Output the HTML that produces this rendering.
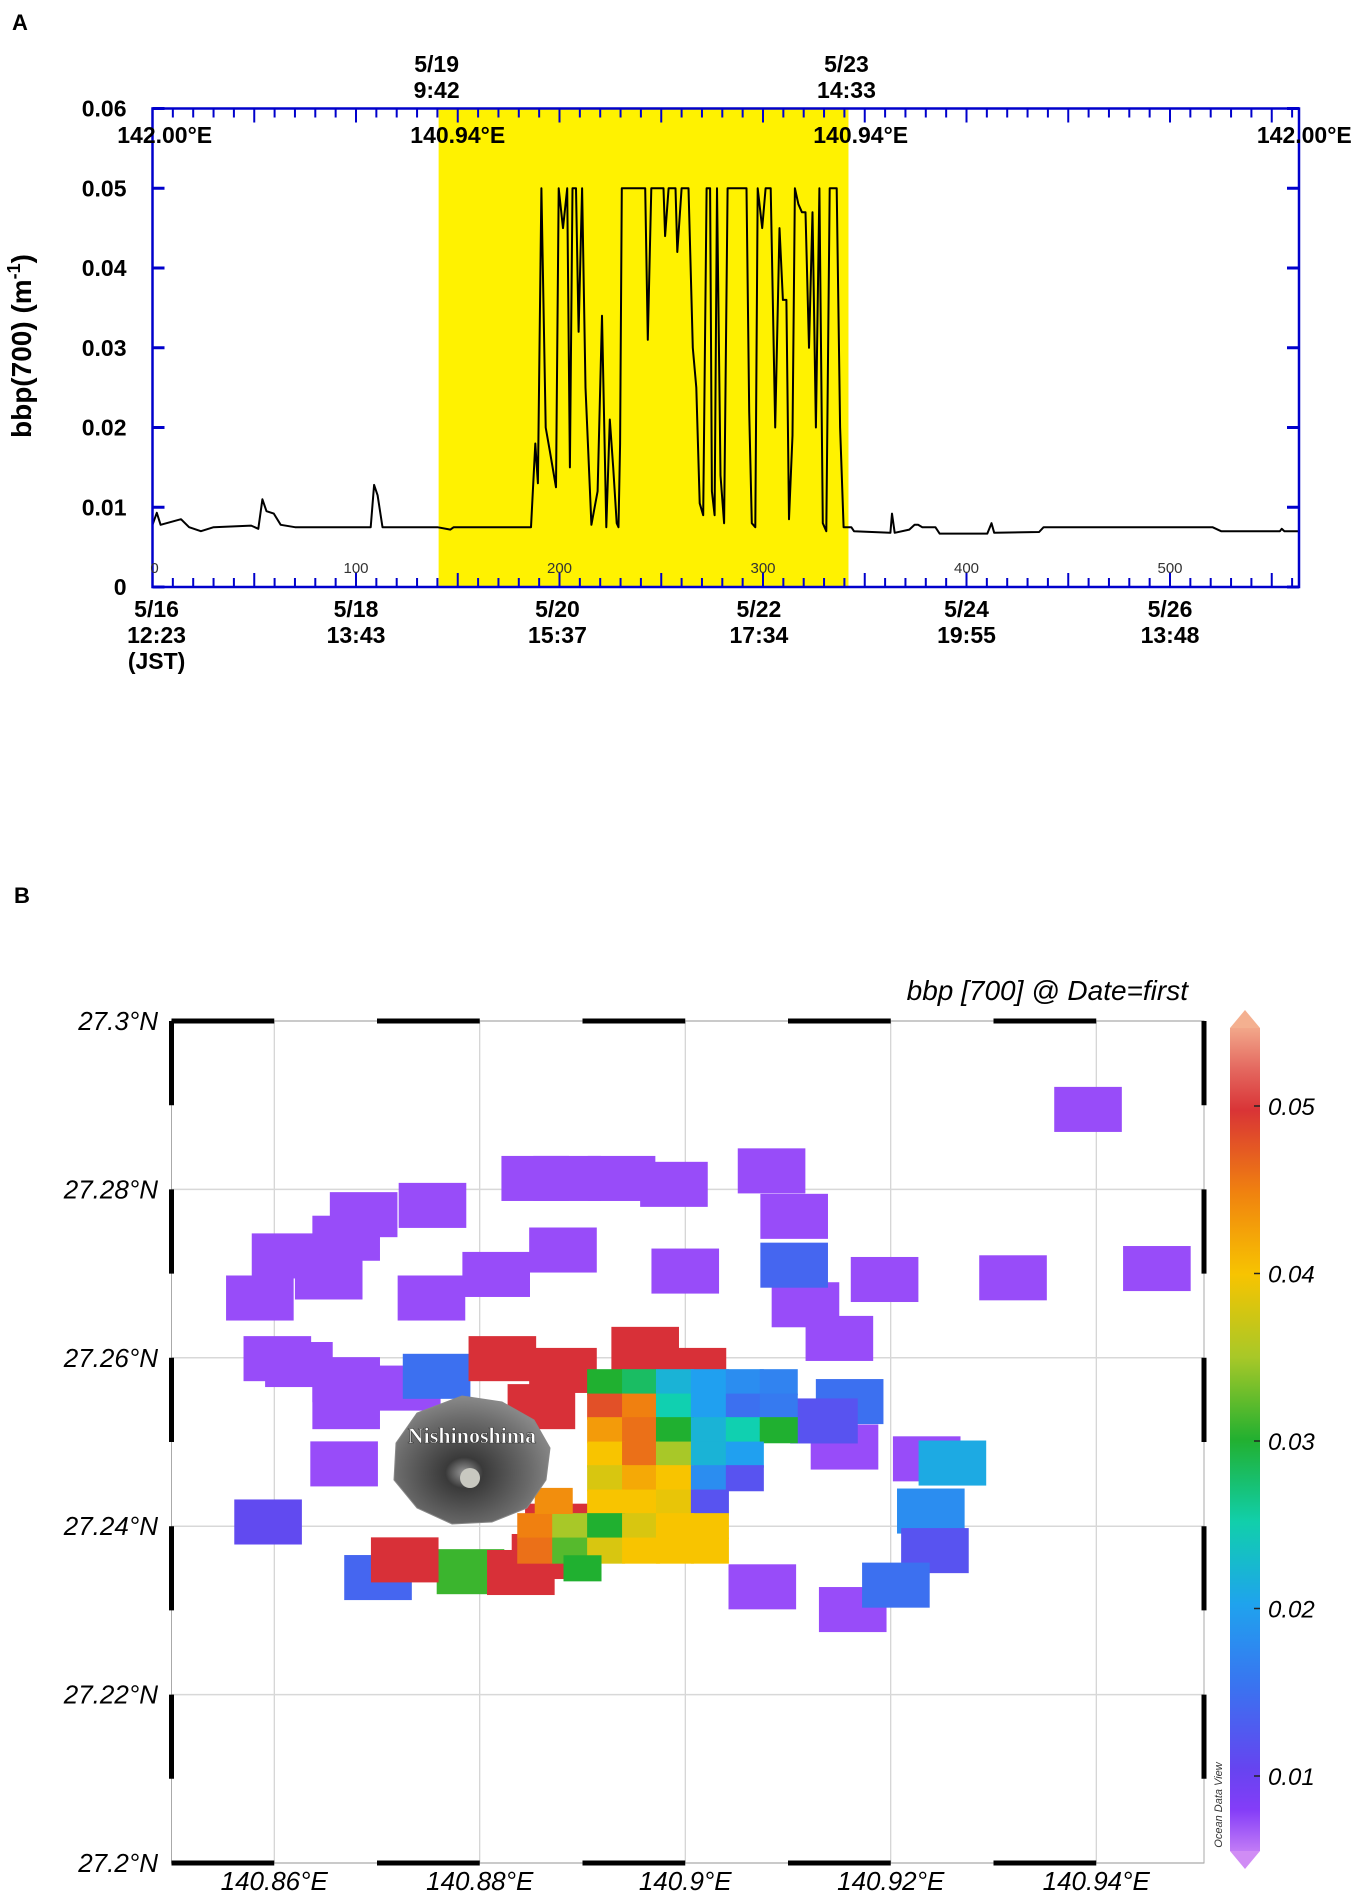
<!DOCTYPE html>
<html><head><meta charset="utf-8"><style>
html,body{margin:0;padding:0;background:#fff}
svg{display:block}
.nar{font-family:"Liberation Sans Narrow","Liberation Sans",sans-serif;font-weight:bold}
.it{font-family:"Liberation Sans",sans-serif;font-style:italic}
</style></head><body>
<svg id="fig" width="1358" height="1892" viewBox="0 0 1358 1892" xmlns="http://www.w3.org/2000/svg">
<text x="12" y="30" font-family="Liberation Sans,sans-serif" font-weight="bold" font-size="22">A</text>
<text x="14" y="903" font-family="Liberation Sans,sans-serif" font-weight="bold" font-size="22">B</text>
<g id="chartA"></g>
<g id="chartB"></g>
</svg>
<script>
// ---------- Chart A data ----------
const aIdx = [0,2.1,4,14,18,23.8,30,48.5,52,54,56,59.6,63,70,107.2,108.9,110.6,113,140,146.4,148,186,188.1,189.4,191.1,193.2,195.3,198.3,199.6,201.7,203.8,205.1,206.4,208.1,209.4,211.1,212.8,215.7,218.7,220.9,223,224.7,226.4,228.1,229,229.8,230.6,231.5,242.1,243.4,245.1,251.1,251.9,253.6,257,257.9,260,263.4,265.5,267.2,268.9,270.6,272.3,274,274.9,276.2,277.4,279.1,280.9,282.6,291.9,293.2,294.5,296.2,297.4,299.6,301.3,303.8,306,308.1,309.8,311.5,312.8,314.5,315.7,317.4,319.1,320.9,322.6,324.3,326,327.7,329.4,331.1,332.8,336.2,337.9,339.6,343.4,344.7,362.6,363.4,364.7,371.9,374.5,376.2,378.3,384.7,386.8,410.2,412.3,413.6,435.7,437.9,520.9,525.1,554,554.9,556.2,563];
const aVal = [0.0078,0.0093,0.0078,0.0085,0.0075,0.007,0.0075,0.0077,0.0073,0.011,0.0095,0.0092,0.0078,0.0075,0.0075,0.0128,0.0115,0.0075,0.0075,0.0072,0.0075,0.0075,0.018,0.013,0.05,0.02,0.017,0.0125,0.05,0.045,0.05,0.015,0.05,0.05,0.032,0.05,0.025,0.0078,0.012,0.034,0.0075,0.021,0.015,0.008,0.0075,0.018,0.05,0.05,0.05,0.031,0.05,0.05,0.044,0.05,0.05,0.042,0.05,0.05,0.03,0.025,0.0105,0.009,0.05,0.05,0.012,0.009,0.05,0.014,0.008,0.05,0.05,0.022,0.008,0.0075,0.05,0.045,0.05,0.05,0.02,0.045,0.036,0.036,0.0085,0.019,0.05,0.048,0.047,0.047,0.03,0.047,0.02,0.05,0.008,0.007,0.05,0.05,0.02,0.0075,0.0075,0.007,0.0068,0.0092,0.0068,0.0072,0.0078,0.0078,0.0075,0.0075,0.0067,0.0067,0.008,0.0068,0.0069,0.0075,0.0075,0.007,0.007,0.0073,0.007,0.007];
const aYTicks = [0,0.01,0.02,0.03,0.04,0.05,0.06];
const aYTickLabels = ["0","0.01","0.02","0.03","0.04","0.05","0.06"];
const aIdxTicks = [0,100,200,300,400,500];
const aDateIdx = [2,100,199,298,400,500];
const aDateLines = [["5/16","12:23","(JST)"],["5/18","13:43"],["5/20","15:37"],["5/22","17:34"],["5/24","19:55"],["5/26","13:48"]];
const aBand = [140.6,342];
const aBandLabels = [["5/19","9:42"],["5/23","14:33"]];
const aLonIdx = [6,150,348,566];
const aLonLabels = ["142.00°E","140.94°E","140.94°E","142.00°E"];

// ---------- Chart B data ----------
const cLon = [140.9392,140.9459,140.9319,140.9194,140.9150,140.9117,140.9106,140.9084,140.9000,140.8989,140.8938,140.8885,140.8854,140.8881,140.8816,140.8753,140.8754,140.8687,140.8670,140.8611,140.8586,140.8653,140.8603,140.8624,140.8670,140.8670,140.8729,140.8668,140.9155,140.9075,140.9163,140.9235,140.8594,140.9106,140.8758,140.9239,140.9243,140.9205,140.9260,140.8701,140.8791,140.8727,140.9160,140.9135,140.8822,140.8881,140.8961,140.9007,140.8860,140.8864,140.8877,140.8840];
const cLat = [27.2895,27.2706,27.2695,27.2693,27.2623,27.2663,27.2768,27.2822,27.2703,27.2806,27.2813,27.2813,27.2813,27.2728,27.2699,27.2671,27.2781,27.2770,27.2742,27.2721,27.2671,27.2696,27.2599,27.2592,27.2574,27.2542,27.2564,27.2474,27.2494,27.2328,27.2301,27.2480,27.2405,27.2710,27.2578,27.2418,27.2371,27.2330,27.2475,27.2339,27.2346,27.2360,27.2548,27.2525,27.2599,27.2585,27.2610,27.2585,27.2542,27.2364,27.2400,27.2345];
const cVal = [0.007,0.007,0.007,0.007,0.007,0.007,0.007,0.007,0.007,0.007,0.007,0.007,0.007,0.007,0.007,0.007,0.007,0.007,0.007,0.007,0.007,0.007,0.007,0.007,0.007,0.007,0.007,0.007,0.007,0.007,0.007,0.007,0.011,0.014,0.015,0.018,0.012,0.015,0.021,0.014,0.031,0.05,0.015,0.012,0.05,0.05,0.05,0.05,0.05,0.05,0.05,0.05];
const fLon = [140.8923,140.8957,140.8990,140.9024,140.9058,140.9091,140.8923,140.8957,140.8990,140.9024,140.9058,140.9091,140.8923,140.8957,140.8990,140.9024,140.9058,140.9091,140.8923,140.8957,140.8990,140.9024,140.9058,140.8923,140.8957,140.8990,140.9024,140.9058,140.8923,140.8957,140.8990,140.9024,140.8855,140.8889,140.8923,140.8957,140.8990,140.9024,140.8855,140.8889,140.8923,140.8957,140.8990,140.9024,140.8900,140.8872];
const fLat = [27.2571,27.2571,27.2571,27.2571,27.2571,27.2571,27.2542,27.2542,27.2542,27.2542,27.2542,27.2542,27.2514,27.2514,27.2514,27.2514,27.2514,27.2514,27.2485,27.2485,27.2485,27.2485,27.2485,27.2457,27.2457,27.2457,27.2457,27.2457,27.2428,27.2428,27.2428,27.2428,27.2400,27.2400,27.2400,27.2400,27.2400,27.2400,27.2371,27.2371,27.2371,27.2371,27.2371,27.2371,27.2350,27.2430];
const fVal = [0.03,0.028,0.022,0.02,0.018,0.017,0.048,0.045,0.025,0.02,0.015,0.016,0.043,0.046,0.03,0.022,0.025,0.03,0.04,0.046,0.035,0.022,0.02,0.038,0.042,0.04,0.018,0.012,0.04,0.04,0.039,0.012,0.045,0.035,0.03,0.038,0.04,0.04,0.046,0.032,0.038,0.04,0.04,0.04,0.03,0.044];
const bLonTicks = [140.86,140.88,140.9,140.92,140.94];
const bLonLabels = ["140.86°E","140.88°E","140.9°E","140.92°E","140.94°E"];
const bLatTicks = [27.2,27.22,27.24,27.26,27.28,27.3];
const bLatLabels = ["27.2°N","27.22°N","27.24°N","27.26°N","27.28°N","27.3°N"];
const cbTicks = [0.01,0.02,0.03,0.04,0.05];
const cbLabels = ["0.01","0.02","0.03","0.04","0.05"];

const NS="http://www.w3.org/2000/svg";
function mk(tag,attrs,parent,txt){const e=document.createElementNS(NS,tag);for(const k in attrs)e.setAttribute(k,attrs[k]);if(txt!==undefined)e.textContent=txt;parent.appendChild(e);return e;}

// ---------- Chart A ----------
(function(){
const g=document.getElementById('chartA');
const L=152.5,R=1299,T=108.5,B=587;
const xA=i=>L+i*2.035;
const yA=v=>B-v/0.06*(B-T);
const band=mk('rect',{x:xA(aBand[0]),y:T,width:xA(aBand[1])-xA(aBand[0]),height:B-T,fill:'#fff200'},g);


for(let i=0;i<=560;i+=10){
  const len=(i%50===0)?14:9;
  const t1=mk('line',{x1:xA(i),x2:xA(i),y1:T,y2:T+len,stroke:'#0000cc','stroke-width':2},g);
  
  
  const t2=mk('line',{x1:xA(i),x2:xA(i),y1:B,y2:B-len,stroke:'#0000cc','stroke-width':2},g);
  
  
}
aYTicks.forEach((v,k)=>{
  const a=mk('line',{x1:L,x2:L+12,y1:yA(v),y2:yA(v),stroke:'#0000cc','stroke-width':3},g);
  
  
  const b=mk('line',{x1:R,x2:R-12,y1:yA(v),y2:yA(v),stroke:'#0000cc','stroke-width':3},g);
  
  
  const t=mk('text',{x:L-26,y:yA(v)+8,'text-anchor':'end','font-size':23,class:'nar'},g,aYTickLabels[k]);
  
  
});
let d='';
aIdx.forEach((i,k)=>{d+=(k?'L':'M')+xA(i).toFixed(1)+','+yA(aVal[k]).toFixed(1);});
const p=mk('path',{d:d,fill:'none',stroke:'#000','stroke-width':2,'stroke-linejoin':'round'},g);


const box=mk('rect',{x:L,y:T,width:R-L,height:B-T,fill:'none',stroke:'#0000cc','stroke-width':2.5},g);


aIdxTicks.forEach(i=>{
  const t=mk('text',{x:xA(i)+(i===0?2:0),y:573,'text-anchor':'middle','font-size':15,'font-family':'Liberation Sans Narrow,Liberation Sans,sans-serif',fill:'#333'},g,String(i));
  
  
});
aDateIdx.forEach((i,k)=>{
  aDateLines[k].forEach((s,j)=>{
    const t=mk('text',{x:xA(i),y:617+j*26,'text-anchor':'middle','font-size':23,class:'nar'},g,s);
    
    
  });
});
aBand.forEach((i,k)=>{
  aBandLabels[k].forEach((s,j)=>{
    const t=mk('text',{x:xA(i)-2,y:72+j*26,'text-anchor':'middle','font-size':23,class:'nar'},g,s);
    
    
  });
});
aLonIdx.forEach((i,k)=>{
  const t=mk('text',{x:xA(i),y:143,'text-anchor':'middle','font-size':23,class:'nar'},g,aLonLabels[k]);
  
  
});
const yt=mk('text',{x:0,y:0,transform:'translate(31,346) rotate(-90)','text-anchor':'middle','font-size':28,'font-family':'Liberation Sans,sans-serif','font-weight':'bold'},g);


yt.innerHTML='bbp(700) (m<tspan dy="-11" font-size="18">-1</tspan><tspan dy="11">)</tspan>';
})();

// ---------- Chart B ----------
(function(){
const g=document.getElementById('chartB');
const L=171.5,R=1204,T=1021,B=1863;
const xB=lon=>L+(lon-140.85)*10275;
const yB=lat=>B-(lat-27.2)*8420;
const stops=[[0.005,[208,140,245]],[0.0075,[138,60,250]],[0.01,[106,64,240]],[0.015,[60,112,240]],[0.02,[32,160,240]],[0.025,[16,208,176]],[0.03,[32,176,48]],[0.035,[168,200,40]],[0.04,[248,196,0]],[0.045,[240,128,16]],[0.05,[216,48,56]],[0.055,[244,176,144]]];
function col(v){
  if(v<=stops[0][0])return 'rgb('+stops[0][1]+')';
  for(let i=1;i<stops.length;i++){if(v<=stops[i][0]){const a=stops[i-1],b=stops[i];const t=(v-a[0])/(b[0]-a[0]);return 'rgb('+a[1].map((c,j)=>Math.round(c+(b[1][j]-c)*t)).join(',')+')';}}
  return 'rgb('+stops[stops.length-1][1]+')';
}
bLonTicks.forEach(v=>{const l=mk('line',{x1:xB(v),x2:xB(v),y1:T,y2:B,stroke:'#c8c8c8','stroke-width':1},g);});
bLatTicks.forEach(v=>{const l=mk('line',{x1:L,x2:R,y1:yB(v),y2:yB(v),stroke:'#d8d8d8','stroke-width':1.5},g);});
const cw=0.00658*10275,ch=0.00535*8420;
cLon.forEach((lon,k)=>{
  const r=mk('rect',{x:xB(lon)-cw/2,y:yB(cLat[k])-ch/2,width:cw,height:ch,fill:col(cVal[k])},g);
  
  
});
const fw=0.0037*10275,fh=0.0031*8420;
fLon.forEach((lon,k)=>{
  const r=mk('rect',{x:xB(lon)-fw/2,y:yB(fLat[k])-fh/2,width:fw,height:fh,fill:col(fVal[k])},g);
  
  
});
const isl=mk('g',{},g);


const defs=mk('defs',{},g);
const rg=mk('radialGradient',{id:'isg',cx:'0.45',cy:'0.6',r:'0.6'},defs);
mk('stop',{offset:'0','stop-color':'#9a9a9a'},rg);mk('stop',{offset:'0.2','stop-color':'#3a3a3a'},rg);mk('stop',{offset:'0.7','stop-color':'#6a6a6a'},rg);mk('stop',{offset:'1','stop-color':'#8a8a8a'},rg);
const cx=472,cy=1458;
mk('path',{d:`M${cx-10},${cy-62} L${cx+30},${cy-56} L${cx+62},${cy-38} L${cx+78},${cy-10} L${cx+74},${cy+22} L${cx+55},${cy+50} L${cx+20},${cy+64} L${cx-20},${cy+66} L${cx-55},${cy+50} L${cx-78},${cy+22} L${cx-76},${cy-15} L${cx-55},${cy-45} Z`,fill:'url(#isg)',stroke:'#888','stroke-width':1},isl);
mk('circle',{cx:cx-2,cy:cy+20,r:10,fill:'#c8c8c0'},isl);
const it=mk('text',{x:cx,y:cy-15,'text-anchor':'middle','font-size':22,'font-family':'Liberation Serif,serif','font-weight':'bold',fill:'#fff',stroke:'#333','stroke-width':0.6},isl,'Nishinoshima');


const fr=mk('rect',{x:L,y:T,width:R-L,height:B-T,fill:'none',stroke:'#aaa','stroke-width':1},g);


for(let i=0;i<10;i+=2){
  const x1=xB(140.85+i*0.01),x2=xB(140.85+(i+1)*0.01);
  [T,B].forEach(yy=>{const s=mk('line',{x1:x1,x2:Math.min(x2,R),y1:yy,y2:yy,stroke:'#000','stroke-width':5},g);});
}
for(let i=0;i<10;i+=2){
  const y1=yB(27.3-i*0.01),y2=yB(27.3-(i+1)*0.01);
  [L,R].forEach(xx=>{const s=mk('line',{x1:xx,x2:xx,y1:y1,y2:y2,stroke:'#000','stroke-width':5},g);});
}
bLonTicks.forEach((v,k)=>{const t=mk('text',{x:xB(v),y:1890,'text-anchor':'middle','font-size':26,class:'it'},g,bLonLabels[k]);});
bLatTicks.forEach((v,k)=>{const t=mk('text',{x:158,y:yB(v)+9,'text-anchor':'end','font-size':26,class:'it'},g,bLatLabels[k]);});
const ti=mk('text',{x:1188,y:1000,'text-anchor':'end','font-size':28,class:'it'},g,'bbp [700] @ Date=first');


const cbTop=1028,cbBot=1851,cbx=1230,cbw=30;
const cy2=v=>1106+(0.05-v)/0.01*167.5;
const lg=mk('linearGradient',{id:'cbg',x1:0,y1:1,x2:0,y2:0},defs);
const vmin=0.01-(cbBot-1776)/167.5*0.01,vmax=0.05+(1106-cbTop)/167.5*0.01;
for(let i=0;i<=20;i++){const v=vmin+(vmax-vmin)*i/20;mk('stop',{offset:i/20,'stop-color':col(v)},lg);}
const cb=mk('rect',{x:cbx,y:cbTop,width:cbw,height:cbBot-cbTop,fill:'url(#cbg)'},g);


const capT=mk('polygon',{points:`${cbx},${cbTop} ${cbx+cbw/2},${cbTop-18} ${cbx+cbw},${cbTop}`,fill:col(0.06)},g);


const capB=mk('polygon',{points:`${cbx},${cbBot} ${cbx+cbw/2},${cbBot+18} ${cbx+cbw},${cbBot}`,fill:col(0.004)},g);


cbTicks.forEach((v,k)=>{
  const l=mk('line',{x1:cbx+cbw-6,x2:cbx+cbw,y1:cy2(v),y2:cy2(v),stroke:'#222','stroke-width':1.5},g);
  
  
  const t=mk('text',{x:1268,y:cy2(v)+9,'font-size':24,class:'it'},g,cbLabels[k]);
  
  
});
const odv=mk('text',{x:0,y:0,transform:'translate(1222,1805) rotate(-90)','text-anchor':'middle','font-size':11,class:'it',fill:'#333'},g,'Ocean Data View');


})();
</script>
</body></html>
